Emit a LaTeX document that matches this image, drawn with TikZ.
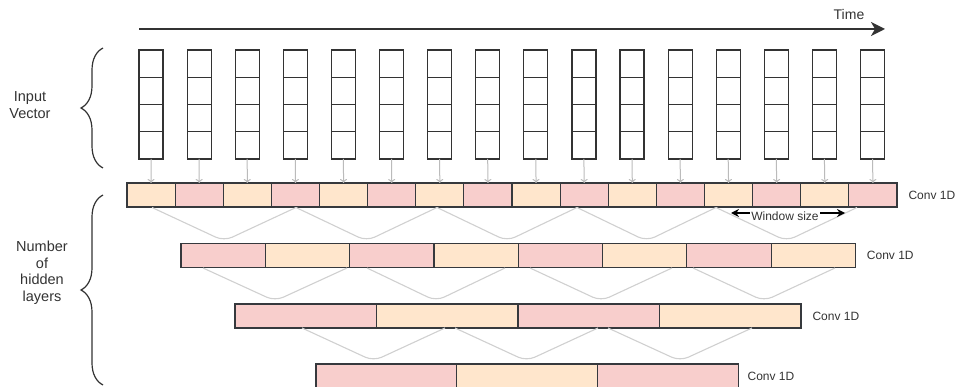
\documentclass[tikz,border=0pt]{standalone}
\usepackage{fontspec}
\setmainfont{Liberation Sans}
\usetikzlibrary{arrows.meta, positioning, calc, decorations.pathreplacing}

\definecolor{peach}{HTML}{FFE6CC}
\definecolor{rose}{HTML}{F8CECC}
\definecolor{edge}{HTML}{36393D}
\definecolor{ink}{HTML}{333333}
\definecolor{link}{HTML}{D0D0D0}

\begin{document}
\begin{tikzpicture}[
    x=1pt, y=-1pt,
    font=\color{ink},
    % Styles
    cell/.style = {rectangle, draw=ink, line width=1.2pt, minimum width=24pt, minimum height=27.25pt, inner sep=0pt, outer sep=0pt},
    convcell/.style = {rectangle, draw=edge, line width=1.2pt, minimum height=24pt, inner sep=0pt, outer sep=0pt},
    tint/.code = {\pgfmathtruncatemacro{\tintk}{mod(#1,2)}\ifnum\tintk=0 \pgfkeysalso{fill=peach}\else\pgfkeysalso{fill=rose}\fi},
    convlabel/.style = {font=\fontsize{12}{14}\selectfont\color{ink}},
    sidelabel/.style = {align=center, font=\fontsize{14.5}{16.5}\selectfont\color{ink}},
    feed/.style = {-{To[length=4pt, width=7pt]}, draw=link!90!black, line width=1pt},
    vlink/.style = {draw=link, line width=1.1pt, rounded corners=9pt},
    timearrow/.style = {-{Stealth[length=14pt, width=14pt, inset=4pt]}, line width=2pt, draw=ink},
    winarrow/.style = {{Stealth[length=8pt, width=8pt]}-{Stealth[length=8pt, width=8pt]}, line width=1.3pt, draw=black},
    bracket/.style = {decorate, decoration={brace, amplitude=22pt}, line width=1.2pt, draw=ink}
]
\useasboundingbox (0,0) rectangle (962,387);

% --- TIME AXIS ---
\coordinate (t_start) at (139,29);
\coordinate (t_end) at (885,29);
\draw[timearrow] (t_start) -- (t_end);
\node[font=\fontsize{14}{16}\selectfont\color{ink}] (time) at (849,15) {Time};

% --- CONV LAYERS ---
\foreach \i in {0,...,15}
    \node[convcell, tint=\i, minimum width=48.125pt] (conv1-\i) at ({127+48.125*(\i+0.5)},195) {};
\foreach \i in {0,...,7}
    \node[convcell, tint=\i+1, minimum width=84.3pt] (conv2-\i) at ({181+84.3*(\i+0.5)},255.5) {};
\foreach \i in {0,...,3}
    \node[convcell, tint=\i+1, minimum width=141.5pt] (conv3-\i) at ({235+141.5*(\i+0.5)},316) {};
\foreach \i in {0,...,2}
    \node[convcell, tint=\i+1, minimum width=140.7pt] (conv4-\i) at ({316+140.7*(\i+0.5)},376) {};

\node[convlabel, right=8pt of conv1-15] (lab1) {Conv 1D};
\node[convlabel, right=8pt of conv2-7] (lab2) {Conv 1D};
\node[convlabel, right=8pt of conv3-3] (lab3) {Conv 1D};
\node[convlabel, right=6pt of conv4-2] (lab4) {Conv 1D};

% --- INPUT VECTORS ---
\foreach \i in {0,...,15} {
    \node[cell] (in\i-1) at ({151+48.1*\i},63.6) {};
    \foreach \r [remember=\r as \p (initially 1)] in {2,3,4}
        \node[cell, below=0pt of in\i-\p] (in\i-\r) {};
    \draw[feed] (in\i-4.south) -- (conv1-\i.north);
}

% --- WINDOW LINKS ---
\foreach \l/\r in {152/296, 296/437, 437/577, 577/716, 716/857}
    \draw[vlink] (\l,207.5) -- ({(\l+\r)/2},241) -- (\r,207.5);
\foreach \l/\r in {203/347, 367/505, 530/672, 693/835}
    \draw[vlink] (\l,268) -- ({(\l+\r)/2},301) -- (\r,268);
\foreach \l/\r in {302/445, 455/598, 608/752}
    \draw[vlink] (\l,328) -- ({(\l+\r)/2},361) -- (\r,328);

% --- WINDOW SIZE ---
\coordinate (win_l) at (731,213);
\coordinate (win_r) at (845,213);
\draw[winarrow] (win_l) -- (win_r);
\node[convlabel, fill=white, inner sep=1pt] (win) at (785,216.5) {Window size};

% --- BRACES ---
\coordinate (br1_top) at (103,48);
\coordinate (br1_bot) at (103,168);
\draw[bracket] (br1_bot) -- (br1_top);
\node[sidelabel] (input) at (30,105) {Input\\Vector};

\coordinate (br2_top) at (103,195);
\coordinate (br2_bot) at (103,385);
\draw[bracket] (br2_bot) -- (br2_top);
\node[sidelabel] (hidden) at (42,273) {Number\\of\\hidden\\layers};

\end{tikzpicture}
\end{document}
